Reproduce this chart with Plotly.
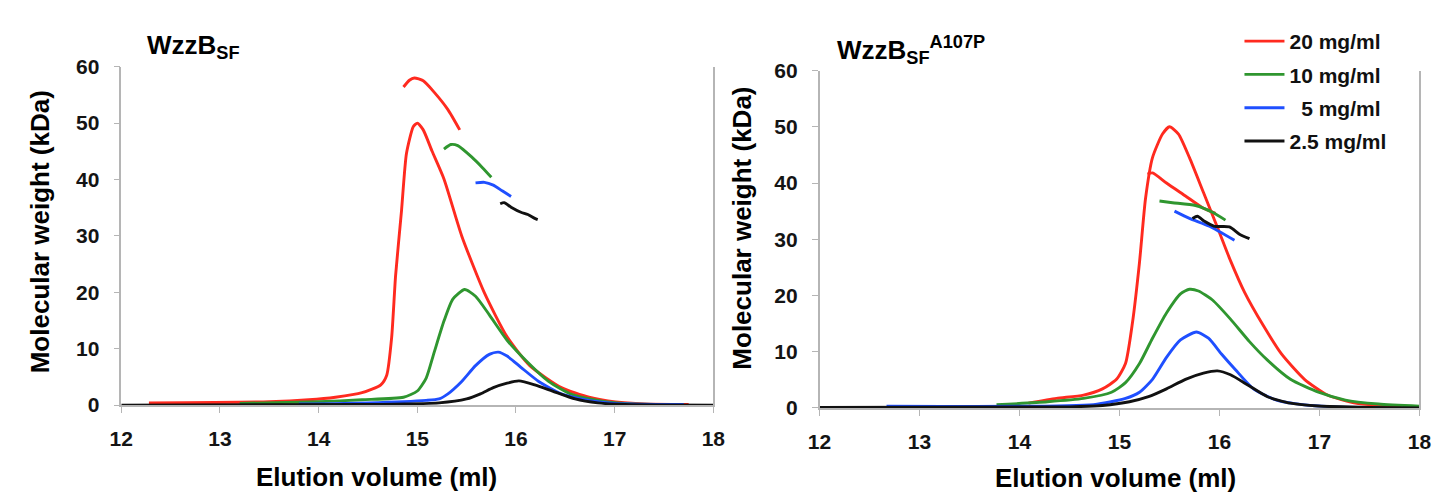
import plotly.graph_objects as go

# ---------------- data ----------------
labels = ["20 mg/ml", "10 mg/ml", "\u00a0 5 mg/ml", "2.5 mg/ml"]
colors = ["#ff2a1f", "#2f962f", "#1f4fff", "#111111"]

# Left panel: WzzB_SF  (concentration traces)
L_red_x = [12.28, 13.5, 13.9, 14.17, 14.44, 14.63, 14.69, 14.74, 14.78, 14.84, 14.89, 14.96, 15.0, 15.06, 15.15, 15.27, 15.45, 15.68, 15.91, 16.14, 16.46, 16.74, 17.01, 17.3, 17.75]
L_red_y = [0.4, 0.6, 0.95, 1.4, 2.2, 3.6, 5.3, 12, 23, 34.5, 44.6, 49.4, 50.0, 48.8, 45, 40.1, 30, 19.9, 12.1, 7.0, 3.1, 1.4, 0.56, 0.2, 0.1]
L_grn_x = [13.2, 14.0, 14.44, 14.86, 15.0, 15.09, 15.17, 15.27, 15.36, 15.48, 15.59, 15.73, 15.91, 16.1, 16.33, 16.55, 16.83, 17.1, 17.47]
L_grn_y = [0.3, 0.6, 0.95, 1.4, 2.5, 4.8, 9.3, 14.9, 18.8, 20.5, 19.3, 16.0, 11.5, 7.9, 4.2, 2.0, 0.84, 0.3, 0.1]
L_blu_x = [13.8, 14.5, 15.09, 15.22, 15.31, 15.45, 15.59, 15.73, 15.82, 15.91, 16.05, 16.23, 16.46, 16.74, 17.0, 17.7]
L_blu_y = [0.2, 0.4, 0.84, 1.1, 2.0, 4.2, 7.0, 9.0, 9.4, 8.7, 6.7, 4.2, 2.0, 0.84, 0.3, 0.1]
L_blk_x = [12.0, 14.5, 15.22, 15.5, 15.64, 15.77, 15.91, 16.03, 16.19, 16.37, 16.6, 16.83, 17.1, 18.0]
L_blk_y = [0.0, 0.1, 0.4, 1.1, 2.0, 3.1, 3.9, 4.3, 3.6, 2.5, 1.1, 0.4, 0.1, 0.0]
# Left panel molecular-weight segments
L_red_mw_x = [14.86, 14.92, 14.97, 15.06, 15.17, 15.31, 15.43]
L_red_mw_y = [56.4, 57.6, 58.0, 57.5, 55.5, 52.4, 48.8]
L_grn_mw_x = [15.27, 15.34, 15.41, 15.55, 15.66, 15.75]
L_grn_mw_y = [45.4, 46.2, 46.0, 44.0, 42.1, 40.4]
L_blu_mw_x = [15.59, 15.68, 15.77, 15.86, 15.95]
L_blu_mw_y = [39.4, 39.5, 39.0, 38.0, 37.0]
L_blk_mw_x = [15.84, 15.88, 15.95, 16.05, 16.12, 16.19, 16.22]
L_blk_mw_y = [35.7, 35.9, 35.1, 34.2, 33.8, 33.1, 32.9]

# Right panel: WzzB_SF A107P
R_red_x = [14.09, 14.37, 14.64, 14.83, 14.97, 15.06, 15.13, 15.2, 15.26, 15.33, 15.43, 15.5, 15.59, 15.7, 15.84, 15.98, 16.11, 16.25, 16.44, 16.62, 16.85, 17.08, 17.36, 17.59, 17.82]
R_red_y = [0.85, 1.7, 2.3, 3.4, 5.1, 7.9, 15.2, 25.9, 37.2, 44.5, 48.7, 50.0, 48.7, 44.5, 38.3, 32.1, 26.2, 20.6, 14.6, 9.6, 5.1, 2.3, 0.85, 0.45, 0.2]
R_grn_x = [13.77, 14.28, 14.64, 14.92, 15.06, 15.2, 15.33, 15.47, 15.61, 15.7, 15.79, 15.93, 16.11, 16.3, 16.48, 16.71, 16.99, 17.26, 17.59, 18.0]
R_grn_y = [0.56, 1.1, 1.7, 2.8, 4.5, 7.9, 12.4, 16.9, 20.3, 21.1, 20.8, 19.2, 15.8, 11.8, 8.5, 5.1, 2.8, 1.4, 0.7, 0.3]
R_blu_x = [12.67, 14.74, 15.06, 15.2, 15.33, 15.47, 15.61, 15.77, 15.89, 16.02, 16.16, 16.34, 16.57, 16.85, 17.17, 17.6]
R_blu_y = [0.3, 0.6, 1.7, 2.8, 5.1, 9.0, 12.1, 13.5, 12.4, 9.6, 6.8, 3.4, 1.4, 0.56, 0.2, 0.1]
R_blk_x = [12.0, 14.5, 14.83, 15.1, 15.29, 15.47, 15.66, 15.84, 15.98, 16.11, 16.3, 16.48, 16.71, 16.99, 17.5, 18.0]
R_blk_y = [0.1, 0.2, 0.45, 1.1, 2.0, 3.4, 5.1, 6.2, 6.6, 5.9, 3.9, 2.0, 0.85, 0.34, 0.1, 0.0]
R_red_mw_x = [15.28, 15.33, 15.47, 15.66, 15.84, 15.96]
R_red_mw_y = [41.6, 41.8, 40.0, 37.7, 35.5, 34.6]
R_grn_mw_x = [15.40, 15.53, 15.76, 15.93, 16.06]
R_grn_mw_y = [36.8, 36.5, 36.0, 34.8, 33.4]
R_blu_mw_x = [15.55, 15.70, 15.90, 16.15]
R_blu_mw_y = [35.0, 33.7, 32.3, 29.8]
R_blk_mw_x = [15.73, 15.78, 15.85, 15.95, 16.10, 16.20, 16.30]
R_blk_mw_y = [33.7, 34.1, 33.2, 32.3, 32.2, 30.9, 30.1]

x_ticks = [12, 13, 14, 15, 16, 17, 18]
y_ticks = [0, 10, 20, 30, 40, 50, 60]

left_title = "WzzB<sub>SF</sub>"
right_title = "WzzB<sub>SF</sub><sup>A107P</sup>"
x_title = "Elution volume (ml)"
y_title = "Molecular weight (kDa)"

# ---------------- figure ----------------
FONT = "Liberation Sans, Arial, sans-serif"
fig = go.Figure()

left_conc = [(L_red_x, L_red_y), (L_grn_x, L_grn_y), (L_blu_x, L_blu_y), (L_blk_x, L_blk_y)]
left_mw = [(L_red_mw_x, L_red_mw_y), (L_grn_mw_x, L_grn_mw_y), (L_blu_mw_x, L_blu_mw_y), (L_blk_mw_x, L_blk_mw_y)]
right_conc = [(R_red_x, R_red_y), (R_grn_x, R_grn_y), (R_blu_x, R_blu_y), (R_blk_x, R_blk_y)]
right_mw = [(R_red_mw_x, R_red_mw_y), (R_grn_mw_x, R_grn_mw_y), (R_blu_mw_x, R_blu_mw_y), (R_blk_mw_x, R_blk_mw_y)]

line_kw = dict(shape="spline", smoothing=0.6, width=2.9)

for i, (xs, ys) in enumerate(left_conc):
    fig.add_trace(go.Scatter(x=xs, y=ys, mode="lines", xaxis="x", yaxis="y",
                             line=dict(color=colors[i], **line_kw), showlegend=False))
for i, (xs, ys) in enumerate(left_mw):
    fig.add_trace(go.Scatter(x=xs, y=ys, mode="lines", xaxis="x", yaxis="y",
                             line=dict(color=colors[i], **line_kw), showlegend=False))
for i, (xs, ys) in enumerate(right_conc):
    fig.add_trace(go.Scatter(x=xs, y=ys, mode="lines", xaxis="x2", yaxis="y2",
                             line=dict(color=colors[i], **line_kw), name=labels[i],
                             legendgroup=str(i), showlegend=True))
for i, (xs, ys) in enumerate(right_mw):
    fig.add_trace(go.Scatter(x=xs, y=ys, mode="lines", xaxis="x2", yaxis="y2",
                             line=dict(color=colors[i], **line_kw), showlegend=False))

tickfont = dict(family=FONT, size=21, color="#141414", weight="bold")
axis_common = dict(showline=True, linecolor="#b5b5b5", linewidth=1.5, ticks="outside",
                   ticklen=6, tickcolor="#b5b5b5", tickwidth=1.2, showgrid=False,
                   zeroline=False, tickfont=tickfont)

fig.update_layout(
    width=1450, height=492,
    margin=dict(l=0, r=0, t=0, b=0),
    paper_bgcolor="white", plot_bgcolor="white",
    xaxis=dict(domain=[103/1450, 705/1450], range=[12, 18], tickvals=x_ticks,
               anchor="y", ticklabelstandoff=8, **axis_common),
    yaxis=dict(domain=[(492-404)/492, (492-49)/492], range=[0, 60], tickvals=y_ticks,
               anchor="x", mirror=True, ticklabelstandoff=10, **axis_common),
    xaxis2=dict(domain=[813/1450, 1423/1450], range=[12, 18], tickvals=x_ticks,
                anchor="y2", ticklabelstandoff=8, **axis_common),
    yaxis2=dict(domain=[(492-407)/492, (492-53)/492], range=[0, 60], tickvals=y_ticks,
                anchor="x2", mirror=True, ticklabelstandoff=10, **axis_common),
    legend=dict(x=1240/1450, y=1-1/492, xanchor="left", yanchor="top",
                font=dict(family=FONT, size=21, color="#111", weight="bold"),
                bgcolor="rgba(0,0,0,0)", tracegroupgap=3, itemwidth=40),
)

title_font = dict(family=FONT, size=26, color="#000", weight="bold")
axt_font = dict(family=FONT, size=26, color="#000", weight="bold")
annotations = [
    dict(text=left_title, x=127/1450, y=1-28/492, xanchor="left", yanchor="middle", font=title_font),
    dict(text=right_title, x=829/1450, y=1-31/492, xanchor="left", yanchor="middle", font=title_font),
    dict(text=x_title, x=362/1450, y=1-479/492, xanchor="center", yanchor="middle", font=axt_font),
    dict(text=x_title, x=1114/1450, y=1-480/492, xanchor="center", yanchor="middle", font=axt_font),
    dict(text=y_title, x=20/1450, y=1-222/492, xanchor="center", yanchor="middle", textangle=-90, font=axt_font),
    dict(text=y_title, x=734/1450, y=1-218/492, xanchor="center", yanchor="middle", textangle=-90, font=axt_font),
]
for a in annotations:
    fig.add_annotation(xref="paper", yref="paper", showarrow=False, **a)

fig.write_html("out.html")
